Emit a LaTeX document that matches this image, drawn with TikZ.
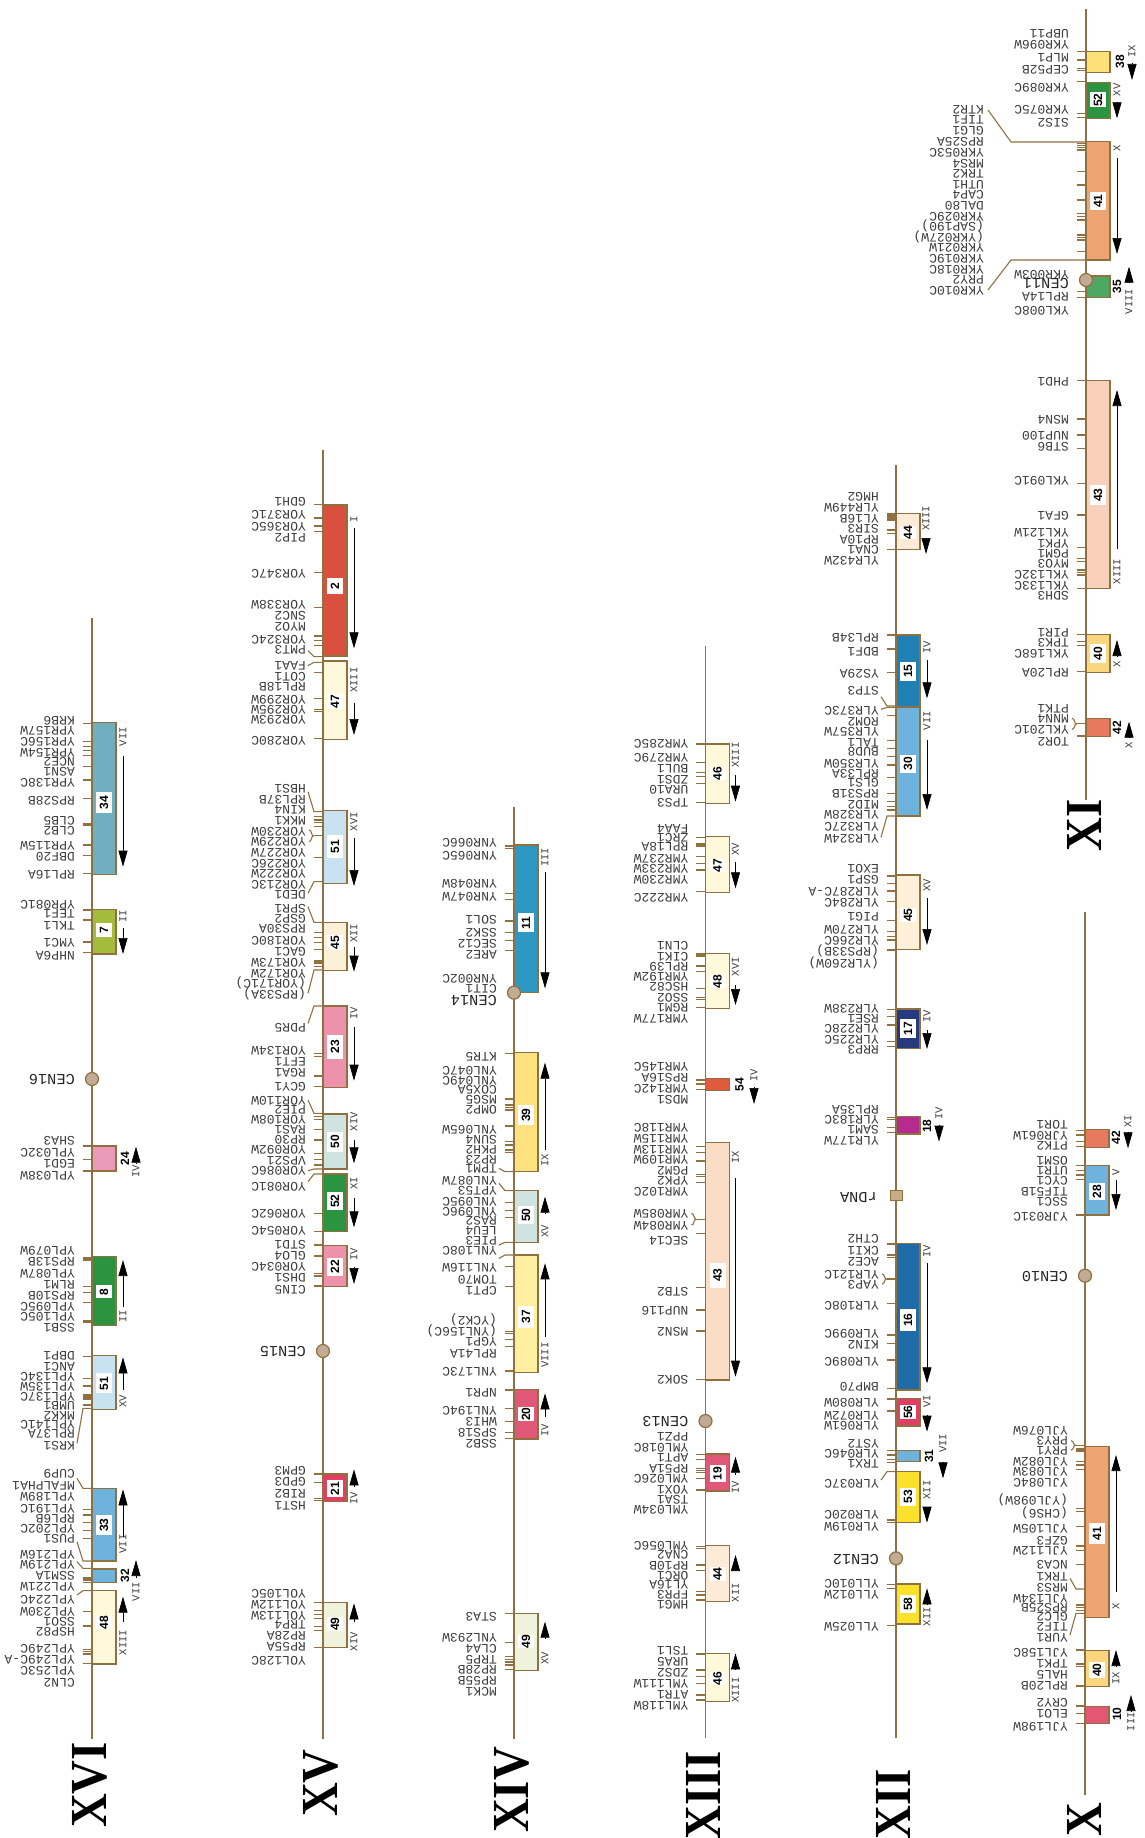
\documentclass[tikz,border=0pt]{standalone}
\usepackage{fontspec}
\usepackage{graphicx}
\usetikzlibrary{arrows.meta}
\newfontfamily\labf{Liberation Mono}
\newfontfamily\numf{Liberation Sans}
\newfontfamily\bigf{Liberation Serif}
\definecolor{brn}{HTML}{8F7040}
\definecolor{txt}{HTML}{3C3C3C}
\definecolor{cen}{HTML}{C2AB94}
\definecolor{rdna}{HTML}{C8AE88}
\definecolor{cA}{HTML}{6FAFC0}
\definecolor{cB}{HTML}{A4BC3C}
\definecolor{cC}{HTML}{EB9AB8}
\definecolor{cD}{HTML}{2B9440}
\definecolor{cE}{HTML}{C9E2F2}
\definecolor{cF}{HTML}{6DB3DC}
\definecolor{cG}{HTML}{FFF8DA}
\definecolor{cH}{HTML}{D9503F}
\definecolor{cI}{HTML}{FDF0D8}
\definecolor{cJ}{HTML}{EE92AC}
\definecolor{cK}{HTML}{CFE4E0}
\definecolor{cL}{HTML}{DF3F60}
\definecolor{cM}{HTML}{F0F3DC}
\definecolor{cN}{HTML}{2E98C4}
\definecolor{cO}{HTML}{FCE17E}
\definecolor{cP}{HTML}{FEF0A0}
\definecolor{cQ}{HTML}{E05878}
\definecolor{cR}{HTML}{E05A3C}
\definecolor{cS}{HTML}{FBDCC4}
\definecolor{cT}{HTML}{FDEBD8}
\definecolor{cU}{HTML}{1E80B4}
\definecolor{cV}{HTML}{263A80}
\definecolor{cW}{HTML}{B52B8E}
\definecolor{cX}{HTML}{1F6CA8}
\definecolor{cY}{HTML}{FAE12C}
\definecolor{cZ}{HTML}{E77A5E}
\definecolor{cAA}{HTML}{EDA372}
\definecolor{cAB}{HTML}{FAD67E}
\definecolor{cAC}{HTML}{E55674}
\definecolor{cAD}{HTML}{FCE078}
\definecolor{cAE}{HTML}{4DA864}
\definecolor{cAF}{HTML}{F8D0BC}
\newcounter{nn}
\tikzset{
 chrom/.style={draw=brn,line width=1.3pt},
 tick/.style={draw=brn,line width=1.1pt},
 elbow/.style={draw=brn,line width=1.1pt},
 blk/.style={draw=brn,line width=1.4pt},
 lab/.style={rotate=180,anchor=west,inner sep=0pt,text height=8pt,text depth=0pt,text=txt,font=\labf\fontsize{13}{13}\selectfont},
 cenlab/.style={rotate=180,anchor=west,inner sep=0pt,text height=9.5pt,text depth=0pt,text=black!85,font=\labf\fontsize{15.3}{15.3}\selectfont},
 romlab/.style={rotate=90,inner sep=0pt,text=txt,font=\labf\fontsize{10.5}{10.5}\selectfont},
 numbox/.style={rotate=90,fill=white,inner sep=0pt,minimum height=16pt,text=black,font=\numf\bfseries\fontsize{12}{12}\selectfont},
 numout/.style={rotate=90,inner sep=0pt,text=black,font=\numf\bfseries\fontsize{12}{12}\selectfont},
 bignum/.style={rotate=90,inner sep=0pt,text=black,font=\bigf\bfseries\fontsize{52}{52}\selectfont},
 cencirc/.style={circle,draw=brn,fill=cen,line width=1.2pt,minimum size=13pt,inner sep=0pt},
 arr/.style={draw=black,line width=.7pt,-{Triangle[length=16pt,width=9pt]}},
}
\newcommand\Ch[3]{\def\cx{#1}\draw[chrom] (\cx,#2)--(\cx,#3);}
\newcommand\Off[1]{\def\zo{#1}}
\newcommand\Ticks[1]{\foreach \yt in {#1}{\draw[tick] ({\cx-9.5},{\zo+\yt/3})--(\cx,{\zo+\yt/3});}}
\newcommand\Lab[1]{\foreach \ylab/\tlab in {#1}{\stepcounter{nn}\node[lab,name=l\thenn] at ({\cx-17},{\zo+\ylab/3}) {\tlab};}}
\newcommand\Blk[6]{\draw[blk,fill=#3] (\cx,{\zo+#1/3}) rectangle ({\cx+24},{\zo+#2/3});
 \stepcounter{nn}\node[numbox,name=n\thenn,minimum width=#6pt/3] at ({\cx+12},{\zo+#5/3}) {#4};}
\newcommand\BlkE[3]{\draw[blk,fill=#3] (\cx,{\zo+#1/3}) rectangle ({\cx+24},{\zo+#2/3});}
\newcommand\NumO[3]{\stepcounter{nn}\node[numout,name=n\thenn] at ({\cx+#1},{\zo+#2/3}) {#3};}
\newcommand\Arr[3]{\draw[arr] ({\cx+#1},{\zo+#2/3})--({\cx+#1},{\zo+#3/3});}
\newcommand\Rom[3]{\stepcounter{nn}\node[romlab,name=r\thenn] at ({\cx+#1},{\zo+#2/3}) {#3};}
\newcommand\Elb[2]{\draw[elbow] (\cx,{\zo+#1/3})--({\cx-9},{\zo+#1/3})--({\cx-15},{\zo+#2/3});}
\newcommand\Brc[2]{\draw[elbow] ({\cx-14},{\zo+#1/3}) .. controls ({\cx-11},{\zo+#1/3}) and ({\cx-12},{\zo+(#1+#2)/6}) .. ({\cx-9.5},{\zo+(#1+#2)/6}) .. controls ({\cx-12},{\zo+(#1+#2)/6}) and ({\cx-11},{\zo+#2/3}) .. ({\cx-14},{\zo+#2/3});
 \draw[tick] ({\cx-9.5},{\zo+(#1+#2)/6})--(\cx,{\zo+(#1+#2)/6});}
\newcommand\Cen[3]{\stepcounter{nn}\node[cencirc,name=c\thenn] at (\cx,{\zo+#1/3}) {};\stepcounter{nn}\node[cenlab,name=t\thenn] at ({\cx-17},{\zo+#2/3}) {#3};}
\newcommand\BigNum[3]{\stepcounter{nn}\node[bignum,name=b\thenn] at (#1,#2) {\scalebox{.9}[1]{#3}};}
\begin{document}
\begin{tikzpicture}[x=1pt,y=-1pt]
\useasboundingbox (0,0) rectangle (1144,1838);
\clip (0,0) rectangle (1144,1838);
% ---------- XVI
\Ch{92}{618}{1739}
\Off{600}
\Ticks{370,425,440,452,466,500,540,596,670,675,735,766,821,930,960,1026,1058}
\Blk{368}{823}{cA}{34}{607}{65}
\Rom{31}{410}{VII}\Arr{31}{468}{800}
\Blk{928}{1062}{cB}{7}{990}{42}
\Rom{31}{948}{II}\Arr{31}{985}{1062}
\Lab{360/KRB6,392/YPR157W,423/YPR156C,456/YPR154W,483/NCE2,515/ASN1,548/YPR138C,601/RPS28B,660/CLB5,690/CLB2,735/YPR115W,770/DBF20,823/RPL16A,913/YPR081C,940/TEF1,975/TKL1,1026/YMC1,1067/NHP6A}
\Off{1000}
\Cen{237}{237}{CEN16}
\Ticks{438,479,513,772,776,780,860,878,908,963,968,1070,1135,1158,1185,1191,1197,1215}
\BlkE{438}{513}{cC}
\NumO{33}{475}{24}\Arr{44}{490}{440}\Rom{44}{515}{IV}
\Lab{422/SHA3,456/YPL032C,489/EGD1,525/YPL038W,752/YPL079W,785/RPS13B,820/YPL087W,852/RLM1,885/RPS10B,918/YPL095C,950/YPL105C,983/SSB1,1065/DBP1,1098/ANC1,1128/YPL134C,1160/YPL135W,1190/YPL137C,1215/UMB1,1245/MKK2}
\Blk{770}{977}{cD}{8}{875}{40}
\Rom{31}{950}{II}\Arr{31}{920}{780}
\Blk{1067}{1228}{cE}{51}{1150}{60}
\Rom{31}{1205}{XV}\Arr{31}{1170}{1072}
\Off{1400}
\Elb{25}{130}\Elb{265}{235}\Elb{483}{425}\Elb{505}{485}\Elb{572}{585}
\Ticks{328,345,368,392,416,533,537,541,548,635,678,748,754,762,790}
\Lab{72/YPL141C,100/RPL37A,135/KRS1,220/CUP9,255/MFALPHA1,290/YPL189W,325/YPL191C,355/RPL6B,385/YPL202C,415/PUS1,463/YPL216W,492/YPL219W,525/SSM1A,558/YPL221W,597/YPL224C,635/YPL230W,665/SSO1,695/HSP82,745/YPL249C,778/YPL249C-A,812/YPL253C,848/CLN2}
\Blk{265}{483}{cF}{33}{375}{60}
\Rom{31}{432}{VII}\Arr{31}{410}{268}
\BlkE{507}{547}{cF}
\NumO{33}{527}{32}\Arr{44}{535}{480}\Rom{44}{575}{VII}
\Blk{572}{792}{cG}{48}{668}{40}
\Rom{31}{728}{XIII}\Arr{31}{665}{590}
\BigNum{90}{1785}{XVI}
% ---------- XV
\Ch{323}{450}{1739}
\Off{400}
\Ticks{314,354,378,394,517,622,708,722,736,817}
\Elb{770}{752}\Elb{787}{797}
\Blk{315}{768}{cH}{2}{558}{47}
\Rom{31}{357}{I}\Arr{31}{385}{745}
\Lab{305/GDH1,342/YOR371C,380/YOR365C,412/PIP2,520/YOR347C,612/YOR338W,645/SNC2,680/MYO2,718/YOR324C,748/PMT3,797/FAA1,828/COT1,858/RPL18B}
\Off{600}
\Ticks{295,328,335,415,650,660,668,680,772,998,1012,1028,1048,1082,1086,1090,1100}
\Blk{183}{418}{cG}{47}{305}{45}
\Rom{31}{240}{XIII}\Arr{31}{308}{405}
\Blk{632}{850}{cE}{51}{740}{70}
\Rom{31}{665}{XVI}\Arr{31}{715}{858}
\Blk{967}{1112}{cI}{45}{1028}{45}
\Rom{31}{1000}{XII}\Arr{31}{1040}{1115}
\Elb{635}{575}\Elb{845}{880}\Elb{967}{920}\Elb{1110}{1180}
\Brc{690}{725}
\Lab{297/YOR299W,327/YOR295W,358/YOR293W,422/YOR280C,565/HBS1,597/RPL37B,628/KIN4,660/MKK1,695/YOR230W,725/YOR229W,758/YOR227W,790/YOR226C,820/YOR222W,852/YOR213C,883/DED1,925/SPR1,955/GSP2,985/RPS30A,1020/YOR180C,1053/GAC1,1087/YOR173W,1120/YOR172W,1150/(YOR171C),1182/(RPS33A)}
\Off{1000}
\Ticks{160,170,228,260,350,358,388,420,460,478,495,640,695,735,768,820,828,858}
\Elb{18}{70}\Elb{340}{300}\Elb{507}{512}\Elb{522}{545}
\Blk{18}{262}{cJ}{23}{140}{73}
\Rom{31}{40}{IV}\Arr{31}{80}{242}
\Blk{342}{507}{cK}{50}{425}{60}
\Rom{31}{365}{XIV}\Arr{31}{420}{490}
\Blk{522}{695}{cD}{52}{603}{55}
\Rom{31}{550}{XI}\Arr{31}{595}{682}
\Blk{737}{860}{cJ}{22}{800}{55}
\Rom{31}{762}{IV}\Arr{31}{800}{852}
\Cen{1053}{1055}{CEN15}
\Lab{82/PDR5,152/YOR134W,185/EFT1,217/RGA1,260/GCY1,300/YOR110W,327/PIE2,358/YOR108W,388/RAS1,418/RP30,447/YOR092W,482/VPS21,512/YOR086C,560/YOR081C,640/YOR062C,690/YOR054C,733/STD1,767/GLO4,800/YOR034C,832/DHS1,868/CIN5}
\Off{1400}
\Ticks{222,247,295,302,608,632,643,655,680,692,742}
\Blk{222}{305}{cL}{21}{265}{50}
\Rom{31}{295}{IV}\Arr{31}{262}{208}
\Blk{607}{742}{cM}{49}{672}{40}
\Rom{31}{725}{XIV}\Arr{31}{665}{610}
\Lab{212/GPM3,243/GPD3,280/RIB2,315/HST1,580/YOL105C,612/YOL112W,645/YOL113W,672/TRP4,705/RP28A,738/RP55A,780/YOL128C}
\BigNum{321}{1783}{XV}
% ---------- XIV
\Ch{514}{807}{1739}
\Off{600}
\Ticks{738,745,880,898,963,997,1022,1052}
\Blk{735}{1178}{cN}{11}{968}{58}
\Rom{31}{772}{III}\Arr{31}{815}{1165}
\Cen{1178}{1200}{CEN14}
\Lab{728/YNR066C,765/YNR065C,850/YNR048W,888/YNR047W,958/SOL1,997/SSK2,1030/SEC12,1062/ARE2,1135/YNR002C,1165/CIT1}
\Off{1000}
\Ticks{160,297,315,322,330,378,425,435,450,458,608,632,652,800,860,995,1000,1018,1040,1113,1170,1225}
\Elb{515}{505}\Elb{572}{550}\Elb{727}{735}\Elb{765}{775}
\Blk{157}{515}{cO}{39}{345}{58}
\Rom{31}{480}{IX}\Arr{31}{450}{188}
\Blk{572}{728}{cK}{50}{645}{55}
\Rom{31}{695}{XV}\Arr{31}{640}{590}
\Blk{765}{1118}{cP}{37}{950}{65}
\Rom{31}{1065}{VIII}\Arr{31}{1010}{790}
\Blk{1168}{1317}{cQ}{20}{1242}{42}
\Rom{31}{1292}{IV}\Arr{31}{1250}{1180}
\Lab{168/KTR5,210/YNL047C,240/YNL049C,268/COX5A,298/MSG5,328/OMP2,388/YNL065W,418/SUN4,448/PKH2,478/RP23,505/TPM1,540/YNL087W,572/YPT53,605/YNL095C,635/YNL096C,662/RAS2,690/LEU4,722/PIE3,752/YNL108C,802/YNL116W,838/TOM70,870/CPT1,960/(YCK2),993/(YNL156C),1025/YGP1,1060/RPL41A,1113/YNL173C,1178/NPR1,1230/YNL194C}
\Off{1400}
\Ticks{65,98,115,640,728,770,778,786,795,808}
\Lab{65/WHI3,98/SPS18,130/SSB2,648/STA3,712/YNL293W,745/CLA4,778/TRP5,808/RP28B,840/RP55B,875/MCK1}
\Blk{640}{812}{cM}{49}{725}{40}
\Rom{31}{775}{XV}\Arr{31}{715}{665}
\BigNum{512}{1790}{XIV}
% ---------- XIII
\Ch{705.5}{646}{1738}
\Off{600}
\Ticks{432,488,518,530,550,608,713,732,738,770,790,810,875,1062,1068,1098,1115,1165,1192,1198,1222}
\Blk{432}{610}{cG}{46}{520}{40}
\Rom{30}{465}{XIII}\Arr{30}{525}{605}
\Blk{710}{878}{cG}{47}{797}{40}
\Rom{30}{748}{XV}\Arr{30}{785}{865}
\Blk{1060}{1225}{cG}{48}{1145}{40}
\Rom{30}{1100}{XVI}\Arr{30}{1155}{1215}
\Lab{430/YMR285C,473/YMR279C,505/BUL1,537/ZDS1,568/URA10,607/TPS3,685/FAA4,713/ZRC1,740/RPL18A,775/YMR237W,805/YMR233W,838/YMR230W,892/YMR222C,1037/CLN1,1068/CIK1,1100/RPL39,1130/YMR192W,1160/HSC82,1192/SSO2,1222/RGM1,1255/YMR177W}
\Off{1000}
\Ticks{240,252,268,440,458,483,523,530,548,700,863,930,993,1138}
\BlkE{235}{272}{cR}
\NumO{34}{253}{54}\Arr{48.5}{262}{312}\Rom{48.5}{225}{IV}
\Blk{428}{1140}{cS}{43}{825}{75}
\Rom{30}{473}{IX}\Arr{30}{535}{1130}
\Brc{640}{675}
\Lab{200/YMR145C,232/RPS16A,265/YMR142C,298/MDS1,383/YMR118C,415/YMR115W,447/YMR113W,477/YMR109W,510/PGM2,542/YPK2,575/YMR102C,640/YMR085W,675/YMR084W,720/SEC14,873/STB2,930/NUP116,993/MSN2,1137/SOK2}
\Off{1400}
\Cen{63}{65}{CEN13}
\Ticks{163,178,205,212,218,235,270,440,445,495,512,575,585,600,762,810,830,850,885,900}
\Blk{162}{273}{cQ}{19}{220}{50}
\Rom{30}{262}{IV}\Arr{30}{225}{170}
\Blk{437}{605}{cT}{44}{522}{40}
\Rom{30}{578}{XII}\Arr{30}{510}{465}
\Blk{760}{905}{cG}{46}{835}{40}
\Rom{30}{870}{XIII}\Arr{30}{810}{760}
\Lab{110/PPZ1,142/YML018C,172/APT1,205/RP51A,235/YML026C,267/YOX1,297/TSA1,328/YML034W,435/YML056C,463/CNA2,495/RP10B,525/ORC1,553/YL16A,583/FPR3,613/HMG1,752/TSL1,785/URA5,817/ZDS2,850/YML111W,882/ATR1,915/YML118W}
\BigNum{703}{1795}{XIII}
% ---------- XII
\Ch{896}{465}{1738}
\Off{340}
\Ticks{522,528,534,540,570,580,628}
\Blk{520}{628}{cT}{44}{578}{40}
\Rom{30}{535}{XIII}\Arr{30}{595}{642}
\Lab{470/HMG2,502/YLR449W,535/YL16B,565/SIR3,597/RP10A,628/CNA1,660/YLR432W}
\Off{600}
\Ticks{105,147,218,347,422,445,470,495,532,580,605,620,630,828,850,873,905,962,995,1010,1020,1050}
\Elb{318}{290}\Elb{322}{328}\Elb{648}{712}
\Blk{105}{320}{cU}{15}{213}{57}
\Rom{31}{143}{IV}\Arr{31}{180}{295}
\Blk{322}{648}{cF}{30}{491}{53}
\Rom{31}{362}{VII}\Arr{31}{420}{630}
\Blk{825}{1048}{cI}{45}{945}{40}
\Rom{31}{855}{XV}\Arr{31}{895}{1035}
\Lab{112/RPL34B,155/BDF1,220/YS29A,272/STP3,332/YLR373C,365/ROM2,395/YLR357W,427/TAL1,455/BUD8,490/YLR350W,520/RPL33A,548/GLS1,580/RPS31B,612/MID2,643/YLR328W,680/YLR327C,715/YLR324W,805/EXO1,838/GSP1,875/YLR287C-A,907/YLR284C,948/PIG1,988/YLR270W,1020/YLR266C,1055/(RPS33B),1090/(YLR260W)}
\Off{1000}
\Ticks{28,50,75,125,140,352,358,382,398,732,765,772,910,1005,1030,1080,1165,1197,1233}
\Blk{27}{145}{cV}{17}{85}{55}
\Rom{31}{50}{IV}\Arr{31}{90}{147}
\BlkE{350}{402}{cW}
\NumO{31}{378}{18}\Arr{43}{375}{425}\Rom{43}{340}{IV}
\node[draw=brn,fill=rdna,line width=1pt,minimum width=12pt,minimum height=10pt,inner sep=0pt,name=rdnabox] at (\cx,{\zo+585/3}) {};
\node[cenlab,name=rdnalab] at ({\cx-19},{\zo+592/3}) {rDNA};
\Blk{730}{1170}{cX}{16}{960}{65}
\Rom{31}{755}{IV}\Arr{31}{790}{1150}
\Blk{1195}{1278}{cL}{56}{1236}{42}
\Rom{31}{1205}{VI}\Arr{31}{1245}{1295}
\Brc{822}{852}
\Lab{25/YLR238W,55/RSE1,85/YLR228C,117/YLR225C,148/RRP3,327/RPL35A,358/YLR183C,388/SAM1,420/YLR177W,715/CTH2,750/CKI1,783/ACE2,822/YLR121C,852/YAP3,915/YLR108C,1000/YLR099C,1033/KIN2,1085/YLR089C,1160/BMP70,1207/YLR080W,1245/YLR072W,1275/YLR061W}
\Off{1400}
\Ticks{152,165,178,188,360,368,553,566,677}
\Elb{215}{240}
\BlkE{152}{185}{cF}
\NumO{33}{168}{31}\Arr{47}{185}{235}\Rom{47}{130}{VII}
\Blk{215}{368}{cY}{53}{290}{53}
\Rom{31}{270}{XII}\Arr{31}{320}{368}
\Cen{475}{478}{CEN12}
\Blk{552}{672}{cY}{58}{612}{55}
\Rom{31}{650}{XII}\Arr{31}{612}{565}
\Lab{130/YST2,160/YLR046C,190/TRX1,250/YLR037C,342/YLR020C,378/YLR019W,550/YLL010C,582/YLL012W,680/YLL025W}
\BigNum{893}{1804}{XII}
% ---------- X
\Ch{1085}{912}{1795}
\Off{1000}
\Ticks{392,405,425,440,497,512,525,538,645}
\BlkE{388}{442}{cZ}
\NumO{31}{412}{42}\Arr{43}{395}{445}\Rom{43}{365}{XI}
\Blk{497}{645}{cF}{28}{575}{52}
\Rom{31}{517}{V}\Arr{31}{540}{630}
\Cen{827}{828}{CEN10}
\Lab{372/TOR1,405/YJR061W,435/PTK2,482/OSM1,512/UTR1,542/CYC1,573/TIF51B,603/SSC1,648/YJR031C}
\Off{1400}
\Ticks{145,150,155,185,195,208,325,335,380,438,452,493,615,623,631,640,750,792,800,858,918,940,970}
\Elb{567}{535}\Elb{640}{705}
\Brc{122}{150}
\Blk{140}{652}{cAA}{41}{400}{65}
\Rom{31}{620}{X}\Arr{31}{575}{165}
\Blk{752}{860}{cAB}{40}{810}{50}
\Rom{31}{835}{IX}\Arr{31}{800}{750}
\BlkE{920}{970}{cAC}
\NumO{32}{942}{10}\Arr{46}{935}{885}\Rom{46}{965}{III}
\Lab{92/YJL076W,122/PRY3,150/PRY1,183/YJL082W,213/YJL083W,248/YJL084C,300/(YJL098W),340/(CHS6),385/YJL105W,420/GZF3,452/YJL112W,493/NCA3,530/TRK1,562/MRS3,595/YJL134W,622/RPS25B,650/GLC2,680/TIF2,712/YUR1,758/YJL158C,790/TPK1,822/HAL5,855/RPL20B,908/CRY2,940/ELO1,980/YJL198W}
\BigNum{1084}{1820}{X}
% ---------- XI
\Ch{1086}{9}{800}
\Off{0}
\Ticks{155,180,205,212,245,340,352,430,436,443,450,515,555,600,640,650,660,705,712,720,755,875,892}
\BlkE{155}{218}{cAD}
\NumO{34}{185}{38}\Arr{46}{190}{240}\Rom{46}{155}{IX}
\Blk{248}{355}{cD}{52}{300}{45}
\Rom{31}{270}{XV}\Arr{31}{305}{355}
\Blk{425}{780}{cAA}{41}{603}{55}
\Rom{31}{445}{X}\Arr{31}{475}{762}
\BlkE{828}{892}{cAE}
\NumO{31}{860}{35}\Arr{43}{850}{800}\Rom{43}{905}{VIII}
\Cen{840}{850}{CEN11}
\Lab{100/UBP11,133/YKR096W,172/MLP1,210/CEP52B,262/YKR089C,330/YKR075C,368/SIS2,822/YKR003W,888/RPL14A,930/YKL008C}
\coordinate (kt) at (1086,142);
\coordinate (kb) at (1086,260);
\coordinate (kta) at (1011,142);
\coordinate (kba) at (1011,260);
\coordinate (ktb) at (988,110);
\coordinate (kbb) at (988,290);
\draw[elbow] (kt)--(kta)--(ktb);
\draw[elbow] (kb)--(kba)--(kbb);
\begin{scope}
\def\cx{1001}
\Lab{330/KTR2,360/TIF1,393/GLG1,425/RPS25A,458/YKR053C,490/MRS4,522/TRK2,553/UTH1,585/CAP4,617/DAL80,650/YKR029C,680/(SAP190),712/(YKR027W),743/YKR021W,775/YKR019C,808/YKR018C,838/PRY2,870/YKR010C}
\end{scope}
\Off{340}
\Ticks{122,237,285,325,430,525,622,655,665,690,697,705,745,883,905,917,995,1188}
\Blk{122}{745}{cAF}{43}{465}{60}
\Rom{31}{695}{XIII}\Arr{31}{628}{150}
\Blk{883}{997}{cAB}{40}{940}{55}
\Rom{31}{972}{X}\Arr{31}{950}{900}
\BlkE{1135}{1190}{cZ}
\NumO{31}{1162}{42}\Arr{43}{1195}{1145}\Rom{43}{1215}{X}
\Brc{1135}{1168}
\Lab{125/PHD1,237/MSN4,285/NUP100,318/STB6,422/YKL091C,527/GFA1,578/YKL121W,610/YPK1,640/PGM1,670/MYO3,702/YKL132C,735/YKL133C,767/SDH3,877/PIR1,908/TPK3,940/YKL168C,998/RPL20A,1105/PTK1,1135/MNN4,1168/YKL201C,1205/TOR2}
\BigNum{1084}{825}{XI}
\end{tikzpicture}
\end{document}
